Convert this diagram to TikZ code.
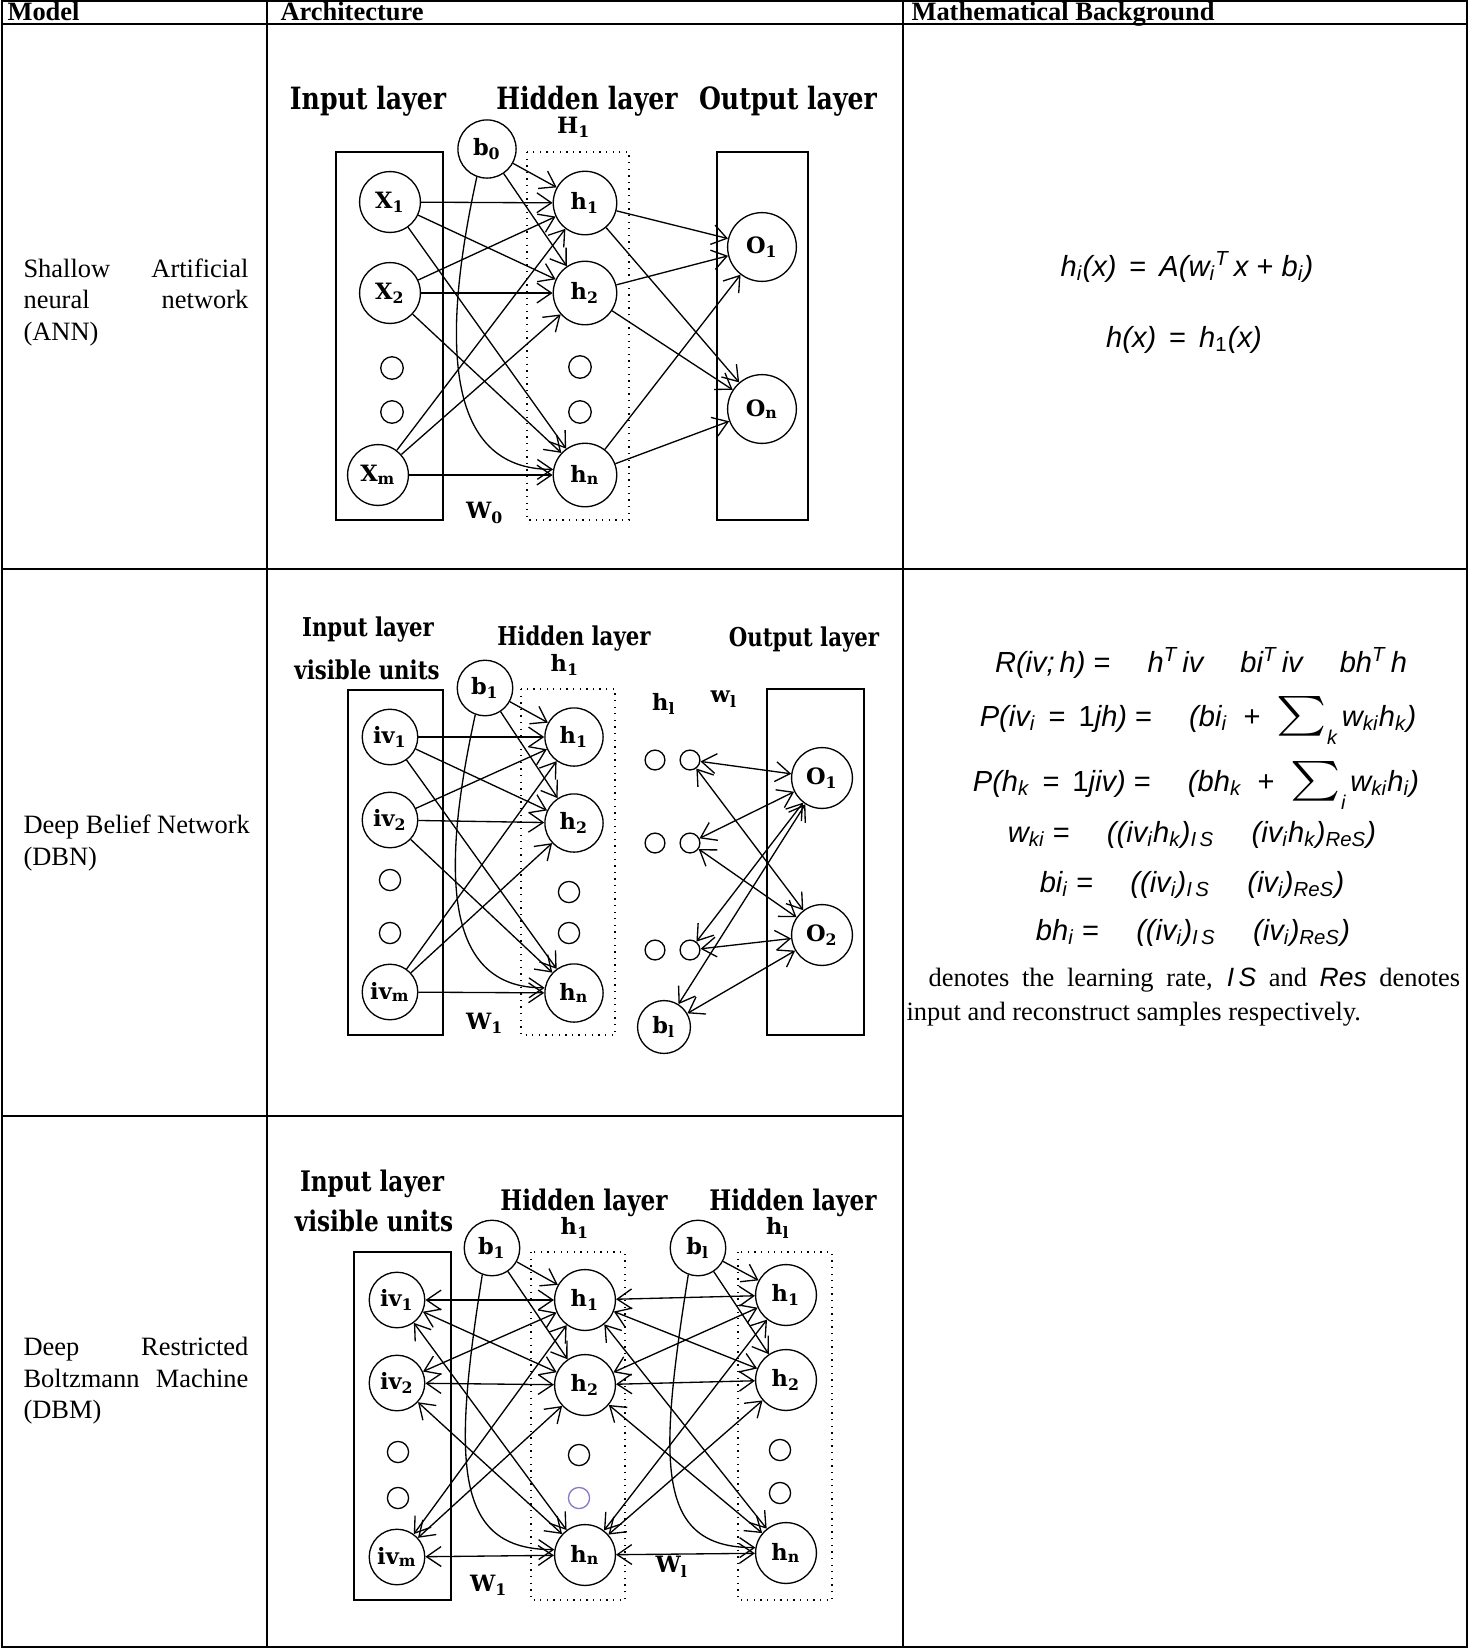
\documentclass[tikz,border=0pt]{standalone}
\usepackage{fontspec}
\usepackage{graphicx}
\setmainfont{Liberation Serif}
\newfontfamily\netfont{DejaVu Serif}
\newfontfamily\eqfont{Liberation Sans}
\usepackage{tikz}
\usetikzlibrary{arrows.meta}
\definecolor{lavender}{RGB}{140,120,200}
\newcommand{\isub}[1]{\textsubscript{#1}}
\newcommand{\isup}[1]{\textsuperscript{#1}}
\newcommand{\eqsum}[1]{\smash{\raisebox{-0.6pt}{\scalebox{1.8}[1.5]{$\sum$}}\raisebox{-0.65em}{\fontsize{7.5}{7.5}\selectfont #1}}}
\newcommand{\gap}{\hspace{14pt}}
\newcommand{\tall}[1]{\scalebox{0.82}[1]{#1}}

\begin{document}
\begin{tikzpicture}[
    x=0.378pt, y=-0.378pt,
    neuron/.style={circle, draw, line width=0.5pt, minimum size=23pt, inner sep=0pt,
        font=\netfont\bfseries\fontsize{8.5}{9}\selectfont},
    dotunit/.style={circle, draw, line width=0.5pt, minimum size=8.5pt, inner sep=0pt},
    layerbox/.style={draw, line width=0.9pt},
    hidbox/.style={draw, line width=0.5pt, dotted},
    ttl/.style={font=\netfont\bfseries\fontsize{#1}{#1}\selectfont, inner sep=0pt},
    ttl/.default=11.6,
    lbl/.style={font=\netfont\bfseries\fontsize{8.5}{9}\selectfont, inner sep=0pt},
    conn/.style={line width=0.5pt, -{Straight Barb[length=5.5pt,width=7.5pt]}},
    biconn/.style={line width=0.5pt, {Straight Barb[length=5.5pt,width=7.5pt]}-{Straight Barb[length=5.5pt,width=7.5pt]}},
    cell/.style={anchor=base west, inner sep=0pt, font=\fontsize{10}{12}\selectfont},
    head/.style={anchor=base west, inner sep=0pt, font=\bfseries\fontsize{10}{12}\selectfont},
    eq/.style={anchor=base, inner sep=0pt, font=\eqfont\itshape\fontsize{11}{13}\selectfont},
    rule/.style={line width=1pt}
]
\useasboundingbox (0,0) rectangle (1469,1648);

% table
\draw[line width=0.5pt] (2,1) rectangle (1467,1647);
\draw[line width=0.5pt] (267,1) -- (267,1647) (903,1) -- (903,1647);
\draw[rule] (2,1) -- (1467,1) (2,24) -- (1467,24) (2,569) -- (1467,569)
    (2,1116) -- (903,1116) (2,1647) -- (1467,1647);

\node[head] (hd-model) at (7,20.5) {Model};
\node[head] (hd-arch) at (280,20.5) {Architecture};
\node[head] (hd-math) at (911,20.5) {Mathematical Background};

\node[cell] (m-ann1) at (23,277) {\hbox to 85pt{Shallow\hfill Artificial}};
\node[cell] (m-ann2) at (23,308) {\hbox to 85pt{neural\hfill network}};
\node[cell] (m-ann3) at (23,340) {(ANN)};
\node[cell] (m-dbn1) at (23,833) {Deep Belief Network};
\node[cell] (m-dbn2) at (23,865) {(DBN)};
\node[cell] (m-dbm1) at (23,1355) {\hbox to 85pt{Deep\hfill Restricted}};
\node[cell] (m-dbm2) at (23,1387) {\hbox to 85pt{Boltzmann\hfill Machine}};
\node[cell] (m-dbm3) at (23,1418) {(DBM)};

% ANN
\node[ttl] (ann-t1) at (368,101) {\tall{Input layer}};
\node[ttl] (ann-t2) at (587,101) {\tall{Hidden layer}};
\node[ttl] (ann-t3) at (788,101) {\tall{Output layer}};
\node[lbl] (ann-hl) at (574,127) {H\isub{1}};
\draw[layerbox] (336,152) rectangle (443,520);
\draw[hidbox] (527,152) rectangle (629,520);
\draw[layerbox] (717,152) rectangle (808,520);
\node[neuron, minimum size=22pt] (ann-b) at (487,149) {b\isub{0}};
\node[neuron] (ann-x1) at (390,202) {X\isub{1}};
\node[neuron] (ann-x2) at (390,293) {X\isub{2}};
\node[dotunit] (ann-xd1) at (392,368) {};
\node[dotunit] (ann-xd2) at (392,412) {};
\node[neuron] (ann-xm) at (378,475) {X\isub{m}};
\node[neuron, minimum size=24pt] (ann-h1) at (585,203) {h\isub{1}};
\node[neuron, minimum size=24pt] (ann-h2) at (585,293) {h\isub{2}};
\node[dotunit] (ann-hd1) at (580,367) {};
\node[dotunit] (ann-hd2) at (580,412) {};
\node[neuron, minimum size=24pt] (ann-hn) at (585,475) {h\isub{n}};
\node[neuron, minimum size=26pt] (ann-o1) at (762,247) {O\isub{1}};
\node[neuron, minimum size=26pt] (ann-on) at (762,409) {O\isub{n}};
\node[lbl] (ann-w) at (485,513) {W\isub{0}};
\foreach \i in {1,2,m}
    \foreach \j in {1,2,n}
        \draw[conn] (ann-x\i) -- (ann-h\j);
\draw[conn] (ann-b) -- (ann-h1);
\draw[conn] (ann-b) -- (ann-h2);
\draw[conn] (ann-b.250) .. controls +(-35,160) and +(-110,0) .. (ann-hn.170);
\foreach \j in {1,2,n}
    \foreach \k in {1,n}
        \draw[conn] (ann-h\j) -- (ann-o\k);

% DBN
\node[ttl=9.8] (dbn-t1) at (368,630) {\tall{Input layer}};
\node[ttl=9.8] (dbn-t2) at (367,670) {\tall{visible units}};
\node[ttl=9.8] (dbn-t3) at (574,639) {\tall{Hidden layer}};
\node[lbl] (dbn-hl) at (565,665) {h\isub{1}};
\node[ttl=9.8] (dbn-t4) at (804,640) {\tall{Output layer}};
\draw[layerbox] (348,690) rectangle (443,1035);
\draw[hidbox] (521,689) rectangle (615,1035);
\draw[layerbox] (767,689) rectangle (864,1035);
\node[neuron, minimum size=21pt] (dbn-b) at (485,688) {b\isub{1}};
\node[neuron, minimum size=21pt] (dbn-iv1) at (390,737) {iv\isub{1}};
\node[neuron, minimum size=21pt] (dbn-iv2) at (390,820) {iv\isub{2}};
\node[dotunit, minimum size=8pt] (dbn-vd1) at (390,880) {};
\node[dotunit, minimum size=8pt] (dbn-vd2) at (390,933) {};
\node[neuron, minimum size=21pt] (dbn-ivm) at (390,992) {iv\isub{m}};
\node[neuron, minimum size=22pt] (dbn-h1) at (574,737) {h\isub{1}};
\node[neuron, minimum size=22pt] (dbn-h2) at (574,823) {h\isub{2}};
\node[dotunit, minimum size=8pt] (dbn-hd1) at (569,892) {};
\node[dotunit, minimum size=8pt] (dbn-hd2) at (569,933) {};
\node[neuron, minimum size=22pt] (dbn-hn) at (574,993) {h\isub{n}};
\node[lbl] (dbn-hlab) at (664,704) {h\isub{l}};
\node[lbl] (dbn-wlab) at (724,699) {w\isub{l}};
\foreach \r/\y in {1/760,2/843,3/950} {
    \node[dotunit, minimum size=7.5pt] (dbn-a\r) at (655,\y) {};
    \node[dotunit, minimum size=7.5pt] (dbn-r\r) at (690,\y) {};
}
\node[neuron, minimum size=20pt] (dbn-bl) at (664,1027) {b\isub{l}};
\node[neuron] (dbn-o1) at (822,778) {O\isub{1}};
\node[neuron] (dbn-o2) at (822,935) {O\isub{2}};
\node[lbl] (dbn-w) at (485,1023) {W\isub{1}};
\foreach \i in {1,2,m}
    \foreach \j in {1,2,n}
        \draw[conn] (dbn-iv\i) -- (dbn-h\j);
\draw[conn] (dbn-b) -- (dbn-h1);
\draw[conn] (dbn-b) -- (dbn-h2);
\draw[conn] (dbn-b.250) .. controls +(-35,160) and +(-100,0) .. (dbn-hn.170);
\foreach \s in {r1,r2,r3,bl}
    \foreach \k in {1,2}
        \draw[biconn] (dbn-\s) -- (dbn-o\k);

% DBM
\node[ttl=10.7] (dbm-t1) at (372,1184) {\tall{Input layer}};
\node[ttl=10.7] (dbm-t2) at (374,1221) {\tall{visible units}};
\node[ttl=10.7] (dbm-t3) at (584,1203) {\tall{Hidden layer}};
\node[lbl] (dbm-hl1) at (575,1228) {h\isub{1}};
\node[ttl=10.7] (dbm-t4) at (793,1203) {\tall{Hidden layer}};
\node[lbl] (dbm-hl2) at (778,1228) {h\isub{l}};
\draw[layerbox] (354,1252) rectangle (451,1600);
\draw[hidbox] (531,1252) rectangle (625,1600);
\draw[hidbox] (738,1252) rectangle (832,1600);
\node[neuron, minimum size=21pt] (dbm-b1) at (492,1248) {b\isub{1}};
\node[neuron, minimum size=21pt] (dbm-bl) at (698,1248) {b\isub{l}};
\node[neuron, minimum size=21pt] (dbm-iv1) at (397,1300) {iv\isub{1}};
\node[neuron, minimum size=21pt] (dbm-iv2) at (397,1383) {iv\isub{2}};
\node[dotunit, minimum size=8pt] (dbm-vd1) at (398,1452) {};
\node[dotunit, minimum size=8pt] (dbm-vd2) at (398,1498) {};
\node[neuron, minimum size=21pt] (dbm-ivm) at (397,1557) {iv\isub{m}};
\node[neuron, minimum size=23pt] (dbm-h1) at (585,1300) {h\isub{1}};
\node[neuron, minimum size=23pt] (dbm-h2) at (585,1385) {h\isub{2}};
\node[dotunit, minimum size=8pt] (dbm-hd1) at (579,1455) {};
\node[dotunit, minimum size=8pt, draw=lavender] (dbm-hd2) at (579,1498) {};
\node[neuron, minimum size=23pt] (dbm-hn) at (585,1555) {h\isub{n}};
\node[neuron, minimum size=23pt] (dbm-g1) at (786,1295) {h\isub{1}};
\node[neuron, minimum size=23pt] (dbm-g2) at (786,1380) {h\isub{2}};
\node[dotunit, minimum size=8pt] (dbm-gd1) at (780,1450) {};
\node[dotunit, minimum size=8pt] (dbm-gd2) at (780,1493) {};
\node[neuron, minimum size=23pt] (dbm-gn) at (786,1553) {h\isub{n}};
\node[lbl] (dbm-w1) at (489,1585) {W\isub{1}};
\node[lbl] (dbm-wl) at (672,1567) {W\isub{l}};
\foreach \i in {1,2,m}
    \foreach \j in {1,2,n}
        \draw[biconn] (dbm-iv\i) -- (dbm-h\j);
\foreach \i in {1,2,n}
    \foreach \j in {1,2,n}
        \draw[biconn] (dbm-h\i) -- (dbm-g\j);
\draw[conn] (dbm-b1) -- (dbm-h1);
\draw[conn] (dbm-b1) -- (dbm-h2);
\draw[conn] (dbm-b1.250) .. controls +(-30,190) and +(-100,0) .. (dbm-hn.170);
\draw[conn] (dbm-bl) -- (dbm-g1);
\draw[conn] (dbm-bl) -- (dbm-g2);
\draw[conn] (dbm-bl.250) .. controls +(-30,190) and +(-100,0) .. (dbm-gn.170);

% formulas
\node[eq] (eq-ann1) at (1187,276) {h\isub{i}(x)\,\ {\upshape =}\ \,A(w\isub{i}\isup{T}\,x\ {\upshape +}\ b\isub{i})};
\node[eq] (eq-ann2) at (1184,347) {h(x)\,\ {\upshape =}\ \,h\isub{\upshape 1}(x)};
\node[eq] (eq-r) at (1201,672) {R(iv;\,h)\ {\upshape =}\gap h\isup{T}\,iv\gap bi\isup{T}\,iv\gap bh\isup{T}\,h};
\node[eq] (eq-pv) at (1198,726) {P(iv\isub{i}\ \,{\upshape =}\ \,{\upshape 1}jh)\ {\upshape =}\gap(bi\isub{i}\ \ {\upshape +}\ \ \eqsum{k}\,w\isub{ki}h\isub{k})};
\node[eq] (eq-ph) at (1196,791) {P(h\isub{k}\ \,{\upshape =}\ \,{\upshape 1}jiv)\ {\upshape =}\gap(bh\isub{k}\ \ {\upshape +}\ \ \eqsum{i}\,w\isub{ki}h\isub{i})};
\node[eq] (eq-w) at (1192,842) {w\isub{ki}\ {\upshape =}\gap((iv\isub{i}h\isub{k})\isub{I\,S}\gap(iv\isub{i}h\isub{k})\isub{ReS})};
\node[eq] (eq-bi) at (1192,892) {bi\isub{i}\ {\upshape =}\gap((iv\isub{i})\isub{I\,S}\gap(iv\isub{i})\isub{ReS})};
\node[eq] (eq-bh) at (1193,940) {bh\isub{i}\ {\upshape =}\gap((iv\isub{i})\isub{I\,S}\gap(iv\isub{i})\isub{ReS})};
\node[cell] (txt-1) at (928,986) {\hbox to 201pt{denotes the learning rate, {\eqfont\itshape I\,S} and {\eqfont\itshape Res} denotes}};
\node[cell] (txt-2) at (906,1020) {input and reconstruct samples respectively.};
\end{tikzpicture}
\end{document}
